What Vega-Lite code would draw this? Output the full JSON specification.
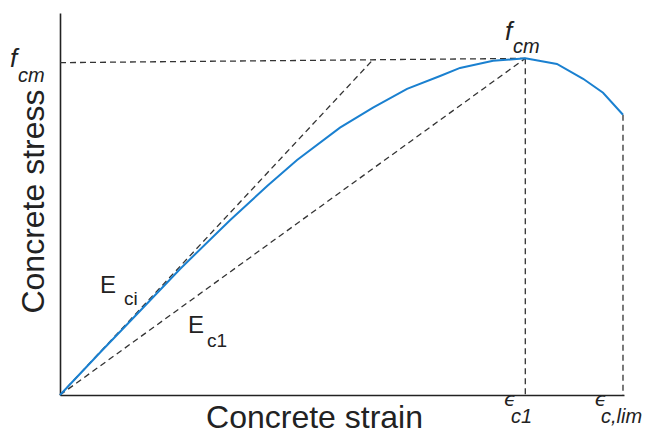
{
  "$schema": "https://vega.github.io/schema/vega-lite/v6.json",
  "width": 564,
  "height": 382,
  "autosize": {"type": "none"},
  "padding": {"left": 60, "top": 13, "right": 24, "bottom": 40},
  "background": "white",
  "config": {
    "view": {"stroke": null},
    "font": "Liberation Sans",
    "axis": {"grid": false, "ticks": false, "labels": false, "domainColor": "#222", "domainWidth": 1.6, "titleFont": "Liberation Sans", "titleFontWeight": "normal", "titleColor": "#222", "titleFontSize": 32}
  },
  "layer": [
    {
      "data": {"values": [
        {"x": 0, "y": 0, "x2": 1.549, "y2": 35.0},
        {"x": 0, "y": 0, "x2": 2.31, "y2": 35.25},
        {"x": 0, "y": 34.8, "x2": 2.31, "y2": 35.25},
        {"x": 2.31, "y": 35.25, "x2": 2.31, "y2": 0},
        {"x": 2.795, "y": 29.35, "x2": 2.795, "y2": 0}
      ]},
      "mark": {"type": "rule", "color": "#333", "strokeWidth": 1.3, "strokeDash": [6, 4]},
      "encoding": {
        "x": {"field": "x", "type": "quantitative", "scale": {"domain": [0, 2.8], "nice": false, "zero": false},
              "axis": {"title": "Concrete strain", "titleX": 254, "titleY": 32, "titleAlign": "center", "titleBaseline": "alphabetic"}},
        "y": {"field": "y", "type": "quantitative", "scale": {"domain": [0, 40], "nice": false, "zero": false},
              "axis": {"title": "Concrete stress", "titleX": -17, "titleY": 188, "titleAlign": "center", "titleBaseline": "alphabetic", "titleAngle": -90}},
        "x2": {"field": "x2"},
        "y2": {"field": "y2"}
      }
    },
    {
      "data": {"values": [
        {"x": 0, "y": 0},
        {"x": 0.199, "y": 4.45},
        {"x": 0.397, "y": 8.8},
        {"x": 0.596, "y": 13.2},
        {"x": 0.844, "y": 18.3},
        {"x": 1.03, "y": 21.9},
        {"x": 1.177, "y": 24.6},
        {"x": 1.39, "y": 28.0},
        {"x": 1.554, "y": 30.1},
        {"x": 1.723, "y": 32.05},
        {"x": 1.887, "y": 33.4},
        {"x": 1.986, "y": 34.25},
        {"x": 2.15, "y": 35.0},
        {"x": 2.31, "y": 35.25},
        {"x": 2.467, "y": 34.67},
        {"x": 2.597, "y": 33.11},
        {"x": 2.696, "y": 31.65},
        {"x": 2.795, "y": 29.35}
      ]},
      "mark": {"type": "line", "color": "#1a80d0", "strokeWidth": 2},
      "encoding": {
        "x": {"field": "x", "type": "quantitative"},
        "y": {"field": "y", "type": "quantitative"}
      }
    },
    {
      "data": {"values": [
        {"label": "f", "x": -0.248, "y": 34.35},
        {"label": "f", "x": 2.209, "y": 37.17}
      ]},
      "mark": {"type": "text", "fontSize": 26, "fontStyle": "italic", "align": "left", "baseline": "alphabetic", "color": "#222", "clip": false},
      "encoding": {
        "x": {"field": "x", "type": "quantitative"},
        "y": {"field": "y", "type": "quantitative"},
        "text": {"field": "label"}
      }
    },
    {
      "data": {"values": [
        {"label": "cm", "x": -0.2085, "y": 32.77},
        {"label": "cm", "x": 2.249, "y": 35.81}
      ]},
      "mark": {"type": "text", "fontSize": 20, "fontStyle": "italic", "align": "left", "baseline": "alphabetic", "color": "#222", "clip": false},
      "encoding": {
        "x": {"field": "x", "type": "quantitative"},
        "y": {"field": "y", "type": "quantitative"},
        "text": {"field": "label"}
      }
    },
    {
      "data": {"values": [
        {"label": "E", "x": 0.1986, "y": 10.68},
        {"label": "E", "x": 0.6355, "y": 6.49}
      ]},
      "mark": {"type": "text", "fontSize": 24, "align": "left", "baseline": "alphabetic", "color": "#222"},
      "encoding": {
        "x": {"field": "x", "type": "quantitative"},
        "y": {"field": "y", "type": "quantitative"},
        "text": {"field": "label"}
      }
    },
    {
      "data": {"values": [
        {"label": "ci", "x": 0.318, "y": 9.42},
        {"label": "c1", "x": 0.7298, "y": 5.03}
      ]},
      "mark": {"type": "text", "fontSize": 19, "align": "left", "baseline": "alphabetic", "color": "#222"},
      "encoding": {
        "x": {"field": "x", "type": "quantitative"},
        "y": {"field": "y", "type": "quantitative"},
        "text": {"field": "label"}
      }
    },
    {
      "data": {"values": [
        {"label": "ϵ", "x": 2.204, "y": -1.2},
        {"label": "ϵ", "x": 2.655, "y": -1.2}
      ]},
      "mark": {"type": "text", "font": "DejaVu Sans", "fontSize": 20, "fontStyle": "italic", "align": "left", "baseline": "alphabetic", "color": "#222", "clip": false},
      "encoding": {
        "x": {"field": "x", "type": "quantitative"},
        "y": {"field": "y", "type": "quantitative"},
        "text": {"field": "label"}
      }
    },
    {
      "data": {"values": [
        {"label": "c1", "x": 2.239, "y": -2.95},
        {"label": "c,lim", "x": 2.686, "y": -2.95}
      ]},
      "mark": {"type": "text", "fontSize": 20, "fontStyle": "italic", "align": "left", "baseline": "alphabetic", "color": "#222", "clip": false},
      "encoding": {
        "x": {"field": "x", "type": "quantitative"},
        "y": {"field": "y", "type": "quantitative"},
        "text": {"field": "label"}
      }
    }
  ]
}
